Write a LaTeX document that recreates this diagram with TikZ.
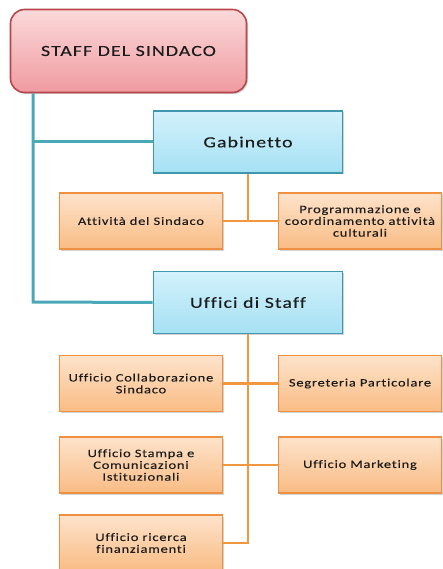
\documentclass[tikz,border=0pt]{standalone}
\usepackage{fontspec}
\setmainfont{Carlito}[LetterSpace=7,FakeStretch=1.28,FakeBold=0.2,Ligatures=NoCommon]
\usetikzlibrary{shadows}
\definecolor{pinkT}{HTML}{FBD9DA}
\definecolor{pinkB}{HTML}{EF9BA0}
\definecolor{pinkD}{HTML}{B8474C}
\definecolor{blueT}{HTML}{D2F1FB}
\definecolor{blueB}{HTML}{A6E1F4}
\definecolor{blueD}{HTML}{3F97AD}
\definecolor{orT}{HTML}{FDE3CB}
\definecolor{orB}{HTML}{F9BC84}
\definecolor{orD}{HTML}{EE9040}
\definecolor{tealL}{HTML}{4AA9B8}
\definecolor{orL}{HTML}{F0973F}
\definecolor{txt}{HTML}{1C1C1C}
\tikzset{
  base/.style={rectangle, align=center, text=txt, line width=1.6pt,
    drop shadow={shadow xshift=1.5pt, shadow yshift=-1.5pt, opacity=0.35}},
  topbox/.style={base, draw=pinkD, top color=pinkT, bottom color=pinkB,
    rounded corners=14pt, minimum width=236pt, minimum height=83pt, font=\fontsize{15.5}{18}\selectfont},
  midbox/.style={base, draw=blueD, top color=blueT, bottom color=blueB,
    minimum width=189pt, minimum height=62pt, font=\fontsize{15.5}{18}\selectfont},
  leafbox/.style={base, draw=orD, top color=orT, bottom color=orB,
    minimum width=163pt, minimum height=56pt, font=\fontsize{11.3}{11.8}\selectfont},
  tline/.style={draw=tealL, line width=3pt},
  oline/.style={draw=orL, line width=2.5pt},
}
\begin{document}
\begin{tikzpicture}[x=1pt,y=-1pt]
\useasboundingbox (0,0) rectangle (442,569);
\coordinate (sv) at (33,93);
\coordinate (sg) at (33,142);
\coordinate (su) at (33,302);
\coordinate (gj) at (248,221);
\coordinate (j3) at (248,543);
\node[topbox] (staff) at (128.5,51) {STAFF DEL SINDACO};
\node[midbox] (gab) at (248,142) {Gabinetto};
\node[leafbox] (att) at (141,221) {Attività del Sindaco};
\node[leafbox] (prog) at (360,221) {Programmazione e\\coordinamento attività\\culturali};
\node[midbox] (uff) at (248,302.5) {Uffici di Staff};
\node[leafbox] (ucs) at (141,383.5) {Ufficio Collaborazione\\Sindaco};
\node[leafbox] (seg) at (360,383.5) {Segreteria Particolare};
\node[leafbox] (ust) at (141,465) {Ufficio Stampa e\\Comunicazioni\\Istituzionali};
\node[leafbox] (mkt) at (360,465) {Ufficio Marketing};
\node[leafbox] (urf) at (141,543) {Ufficio ricerca\\finanziamenti};
\draw[tline] (staff.south -| sv) -- (su) -- (uff.west);
\draw[tline] (sg) -- (gab.west);
\draw[oline] (gab.south) -- (gj);
\draw[oline] (att.east) -- (prog.west);
\draw[oline] (uff.south) -- (j3) -- (urf.east);
\draw[oline] (ucs.east) -- (seg.west);
\draw[oline] (ust.east) -- (mkt.west);
\end{tikzpicture}
\end{document}
